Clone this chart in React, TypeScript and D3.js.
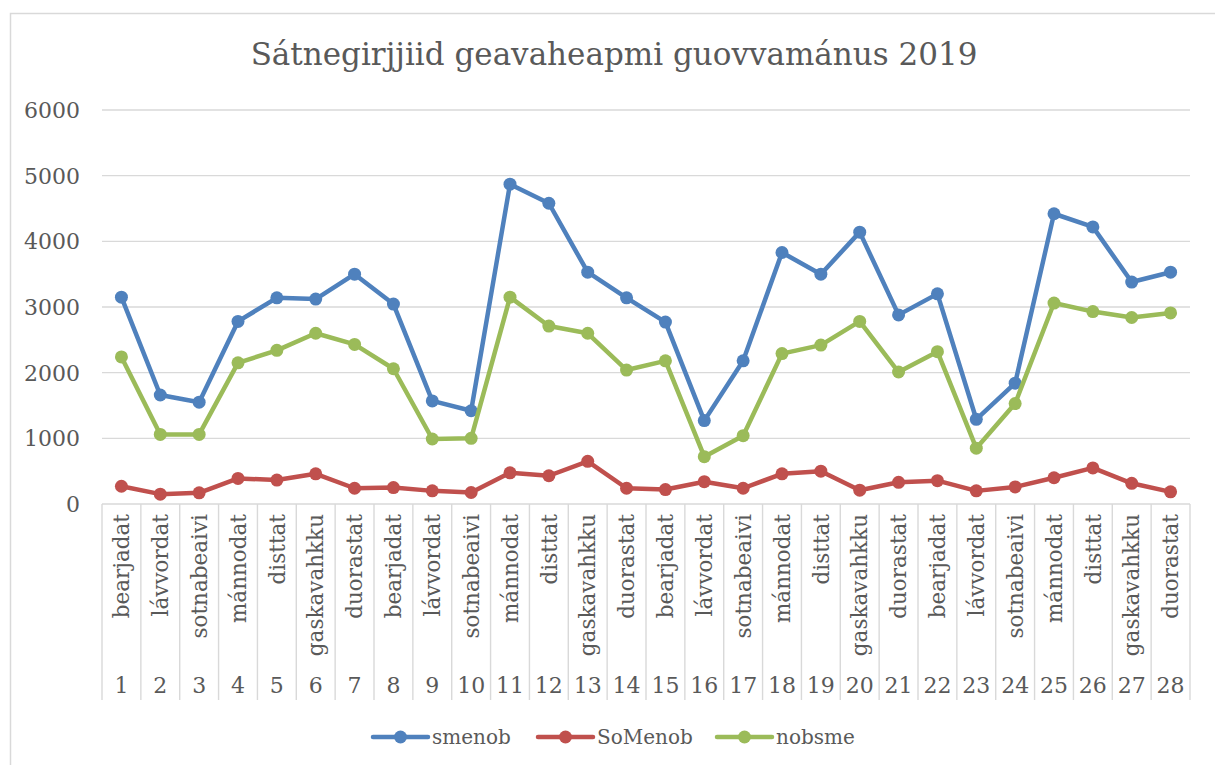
import React from "react"
import * as d3 from "d3"

// chart values
const days = [
  "bearjadat", "lávvordat", "sotnabeaivi", "mánnodat", "disttat", "gaskavahkku", "duorastat",
  "bearjadat", "lávvordat", "sotnabeaivi", "mánnodat", "disttat", "gaskavahkku", "duorastat",
  "bearjadat", "lávvordat", "sotnabeaivi", "mánnodat", "disttat", "gaskavahkku", "duorastat",
  "bearjadat", "lávvordat", "sotnabeaivi", "mánnodat", "disttat", "gaskavahkku", "duorastat",
]
const dates = d3.range(1, 29).map(String)

const smenob = [
  3150, 1660, 1550, 2780, 3140, 3120, 3500, 3045, 1570, 1420, 4870, 4580, 3530, 3140,
  2770, 1270, 2180, 3830, 3500, 4140, 2880, 3200, 1290, 1840, 4420, 4220, 3380, 3530,
]
const soMenob = [
  270, 150, 170, 390, 365, 460, 240, 250, 200, 175, 475, 430, 650, 240,
  220, 340, 240, 460, 500, 210, 330, 355, 200, 260, 400, 550, 315, 185,
]
const nobsme = [
  2240, 1060, 1060, 2150, 2340, 2600, 2430, 2060, 990, 1000, 3150, 2710, 2600, 2040,
  2180, 720, 1040, 2290, 2420, 2780, 2010, 2320, 850, 1530, 3060, 2930, 2840, 2910,
]
const yTicks = [0, 1000, 2000, 3000, 4000, 5000, 6000]

const series = [
  { name: "smenob", values: smenob, color: "#4f81bd" },
  { name: "SoMenob", values: soMenob, color: "#c0504d" },
  { name: "nobsme", values: nobsme, color: "#9bbb59" },
]

const font = "'DejaVu Serif', 'Liberation Serif', serif"
const textColor = "#595959"
const gridColor = "#d9d9d9"

export default function App() {
  const left = 102, right = 1190, top = 110, bottom = 504

  const x = d3.scaleBand<number>().domain(d3.range(28)).range([left, right])
  const y = d3.scaleLinear().domain([0, 6000]).range([bottom, top])
  const cx = (i: number) => (x(i) as number) + x.bandwidth() / 2

  const line = d3.line<number>()
    .x((_, i) => cx(i))
    .y(d => y(d))

  const boundaries = d3.range(29).map(i => left + i * x.bandwidth())

  // legend placement
  const legendX = [373, 538, 717]

  return (
    <svg width={1215} height={765} style={{ position: "absolute", left: 0, top: 0, background: "#fff" }}>
      {/* outer frame */}
      <rect x={10.5} y={13.5} width={1220} height={770} fill="none" stroke={gridColor} strokeWidth={1.5} />

      <text x={614} y={65} textAnchor="middle" fontFamily={font} fontSize={31} fill={textColor}>
        Sátnegirjjiid geavaheapmi guovvamánus 2019
      </text>

      {/* gridlines + y labels */}
      {yTicks.map(t => (
        <g key={t}>
          <line x1={left} x2={right} y1={y(t)} y2={y(t)} stroke={gridColor} strokeWidth={1.4} />
          <text x={80} y={y(t)} dy="0.36em" textAnchor="end" fontFamily={font} fontSize={22} fill={textColor}>
            {t}
          </text>
        </g>
      ))}

      {/* category axis separators */}
      {boundaries.map((bx, i) => (
        <line key={i} x1={bx} x2={bx} y1={bottom} y2={700} stroke={gridColor} strokeWidth={1.4} />
      ))}

      {days.map((d, i) => (
        <text key={"d" + i}
          transform={`translate(${cx(i)},514) rotate(-90)`}
          textAnchor="end" dy="0.36em"
          fontFamily={font} fontSize={21.5} fill={textColor}>
          {d}
        </text>
      ))}
      {dates.map((d, i) => (
        <text key={"n" + i} x={cx(i)} y={693} textAnchor="middle"
          fontFamily={font} fontSize={22} fill={textColor}>
          {d}
        </text>
      ))}

      {/* series */}
      {series.map(s => (
        <g key={s.name}>
          <path d={line(s.values) || ""} fill="none" stroke={s.color} strokeWidth={4.5} strokeLinejoin="round" />
          {s.values.map((v, i) => (
            <circle key={i} cx={cx(i)} cy={y(v)} r={6.5} fill={s.color} />
          ))}
        </g>
      ))}

      {/* legend */}
      {series.map((s, i) => (
        <g key={"lg" + s.name} transform={`translate(${legendX[i]},737)`}>
          <line x1={0} x2={55} y1={0} y2={0} stroke={s.color} strokeWidth={4.5} strokeLinecap="round" />
          <circle cx={27.5} cy={0} r={6.5} fill={s.color} />
          <text x={59} y={0} dy="0.36em" fontFamily={font} fontSize={20} fill={textColor}>{s.name}</text>
        </g>
      ))}
    </svg>
  )
}
